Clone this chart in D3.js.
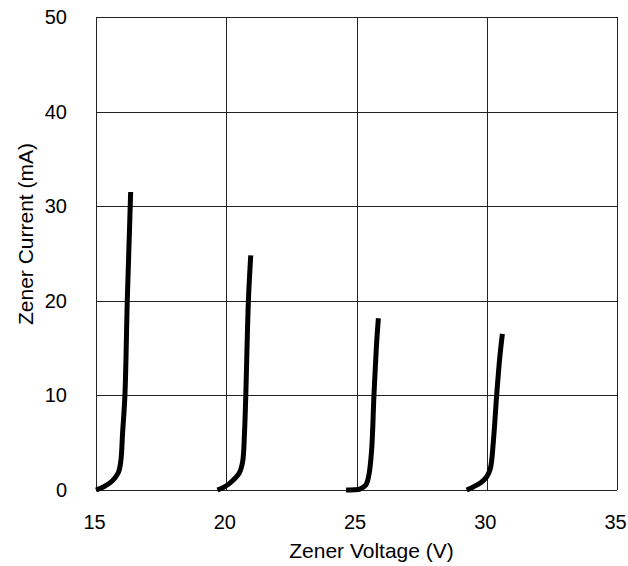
<!DOCTYPE html>
<html><head><meta charset="utf-8">
<script src="https://cdn.jsdelivr.net/npm/d3@7"></script>
<style>body{margin:0;background:#fff;}svg{display:block;font-family:"Liberation Sans",Arial,sans-serif;}</style>
</head><body><svg id="c" width="628" height="566"></svg>
<script>
const xTicks = [15, 20, 25, 30, 35];
const yTicks = [0, 10, 20, 30, 40, 50];
const xTitle = "Zener Voltage (V)";
const yTitle = "Zener Current (mA)";
// Four zener curves: voltage (V) and current (mA)
const z1V = [15.0, 15.3, 15.6, 15.85, 15.95, 16.02, 16.11, 16.2, 16.28, 16.33];
const z1I = [0, 0.35, 0.9, 1.8, 3.0, 6, 10, 20, 27, 31.5];
const z2V = [19.66, 19.95, 20.21, 20.5, 20.63, 20.7, 20.75, 20.85, 20.94];
const z2I = [0, 0.35, 0.9, 1.8, 3.0, 6, 10, 20, 24.8];
const z3V = [24.6, 24.9, 25.13, 25.35, 25.47, 25.58, 25.67, 25.76, 25.84];
const z3I = [0, 0.02, 0.1, 0.5, 1.5, 4.2, 10, 15, 18.15];
const z4V = [29.23, 29.5, 29.78, 30.0, 30.14, 30.25, 30.38, 30.5, 30.6];
const z4I = [0, 0.35, 0.8, 1.4, 2.3, 5, 10, 14, 16.5];
const curves = [[z1V, z1I], [z2V, z2I], [z3V, z3I], [z4V, z4I]];

const svg = d3.select("#c");
const m = {l: 96, t: 17, r: 617, b: 490};
const x = d3.scaleLinear().domain([15, 35]).range([m.l, m.r]);
const y = d3.scaleLinear().domain([0, 50]).range([m.b, m.t]);

const g = svg.append("g");
g.selectAll(".gx").data(xTicks).join("line")
  .attr("x1", d => Math.round(x(d)) + 0.5).attr("x2", d => Math.round(x(d)) + 0.5)
  .attr("y1", m.t).attr("y2", m.b).attr("stroke", "#222").attr("stroke-width", 1);
g.selectAll(".gy").data(yTicks).join("line")
  .attr("y1", d => Math.round(y(d)) + 0.5).attr("y2", d => Math.round(y(d)) + 0.5)
  .attr("x1", m.l).attr("x2", m.r).attr("stroke", "#222").attr("stroke-width", 1);

const xAxis = d3.axisBottom(x).tickValues(xTicks).tickSize(0).tickPadding(25);
const yAxis = d3.axisLeft(y).tickValues(yTicks).tickSize(0).tickPadding(29);
const gx = svg.append("g").attr("transform", `translate(-2,${m.b})`).call(xAxis);
const gy = svg.append("g").attr("transform", `translate(${m.l},0)`).call(yAxis);
[gx, gy].forEach(a => {
  a.select(".domain").remove();
  a.selectAll("text").attr("font-size", 20).attr("fill", "#000").attr("font-family", '"Liberation Sans",Arial,sans-serif');
});

const line = d3.line().x(d => x(d[0])).y(d => y(d[1])).curve(d3.curveCatmullRom.alpha(0.5));
curves.forEach(([vs, is]) => {
  svg.append("path").datum(vs.map((v, i) => [v, is[i]]))
    .attr("d", line).attr("fill", "none").attr("stroke", "#000")
    .attr("stroke-width", 5).attr("stroke-linecap", "butt").attr("stroke-linejoin", "round");
});

svg.append("text").attr("x", 371.5).attr("y", 558).attr("text-anchor", "middle")
  .attr("font-size", 21).text(xTitle);
svg.append("text").attr("transform", `translate(33,234) rotate(-90)`)
  .attr("text-anchor", "middle").attr("font-size", 21).text(yTitle);
</script></body></html>
